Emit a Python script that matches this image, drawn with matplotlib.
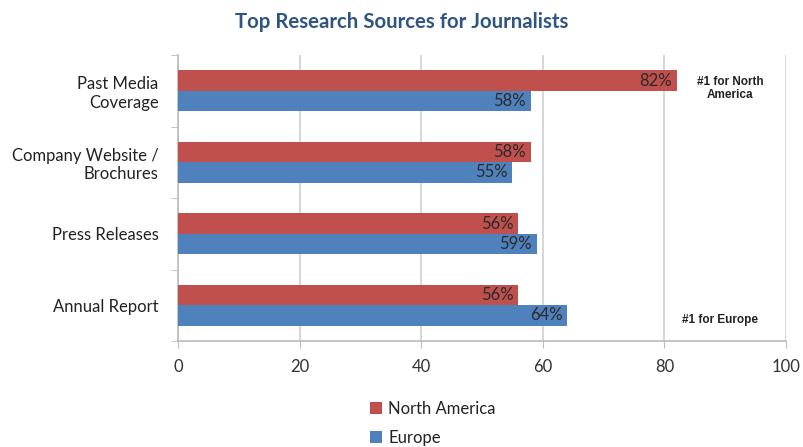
import matplotlib
matplotlib.use("Agg")
import matplotlib.pyplot as plt
import numpy as np

categories = ["Past Media\nCoverage", "Company Website /\nBrochures", "Press Releases", "Annual Report"]
north_america = [82, 58, 56, 56]
europe = [58, 55, 59, 64]
series_names = ["North America", "Europe"]
xticks = [0, 20, 40, 60, 80, 100]

plt.rcParams['font.family'] = ['Lato', 'DejaVu Sans']

fig = plt.figure(figsize=(8.04, 4.47), dpi=100)
ax = fig.add_axes([178/804, 1-341/447, (786-178)/804, (341-55)/447])

red = "#C0504D"
blue = "#4F81BD"
h = 0.285
y = np.arange(len(categories))[::-1].astype(float)

b1 = ax.barh(y + h/2, north_america, height=h, color=red, label=series_names[0], zorder=3)
b2 = ax.barh(y - h/2, europe, height=h, color=blue, label=series_names[1], zorder=3)

for bars, vals in ((b1, north_america), (b2, europe)):
    for bar, v in zip(bars, vals):
        ax.text(v - 0.8, bar.get_y() + bar.get_height()/2, f"{v}%", ha="right", va="center",
                fontsize=12, color="#2a2a2a", zorder=4)

ax.set_xlim(0, 100)
ax.set_ylim(-0.5, len(categories) - 0.5)
ax.set_xticks(xticks)
ax.set_xticklabels([str(t) for t in xticks], fontsize=12, color="#333333")
ax.set_yticks(y)
ax.set_yticklabels(categories, fontsize=12, color="#222222")
ax.set_yticks(np.arange(-0.5, len(categories), 1.0), minor=True)
ax.tick_params(axis="y", which="major", length=0, pad=14)
ax.tick_params(axis="y", which="minor", length=5, color="#BBBBBB", direction="out")
ax.tick_params(axis="x", length=5, color="#BBBBBB", direction="out", pad=8)
ax.grid(axis="x", color="#D0D0D0", linewidth=1.2, zorder=0)
for s in ["top", "right"]:
    ax.spines[s].set_visible(False)
for s in ["left", "bottom"]:
    ax.spines[s].set_color("#BBBBBB")
    ax.spines[s].set_linewidth(1.2)

ax.text(90.8, 3.03, "#1 for North\nAmerica", ha="center", va="center", fontsize=8.5,
        fontweight="bold", family=["Liberation Sans", "DejaVu Sans"], color="#222222",
        linespacing=1.1, zorder=4)
ax.text(89.1, -0.21, "#1 for Europe", ha="center", va="center", fontsize=8.5,
        fontweight="bold", family=["Liberation Sans", "DejaVu Sans"], color="#222222", zorder=4)

fig.text(0.5, 1-22/447, "Top Research Sources for Journalists", ha="center", va="center",
         fontsize=14.7, fontweight="bold", color="#2F5580")

fig.legend(handles=[b1, b2], labels=series_names, loc="upper left",
           bbox_to_anchor=(370/804, 1-401/447), frameon=False, fontsize=12,
           handlelength=0.7, handleheight=0.7, handletextpad=0.4, labelspacing=0.75,
           labelcolor="#222222", borderaxespad=0, borderpad=0)

fig.savefig("out.png", dpi=100, facecolor="white")
